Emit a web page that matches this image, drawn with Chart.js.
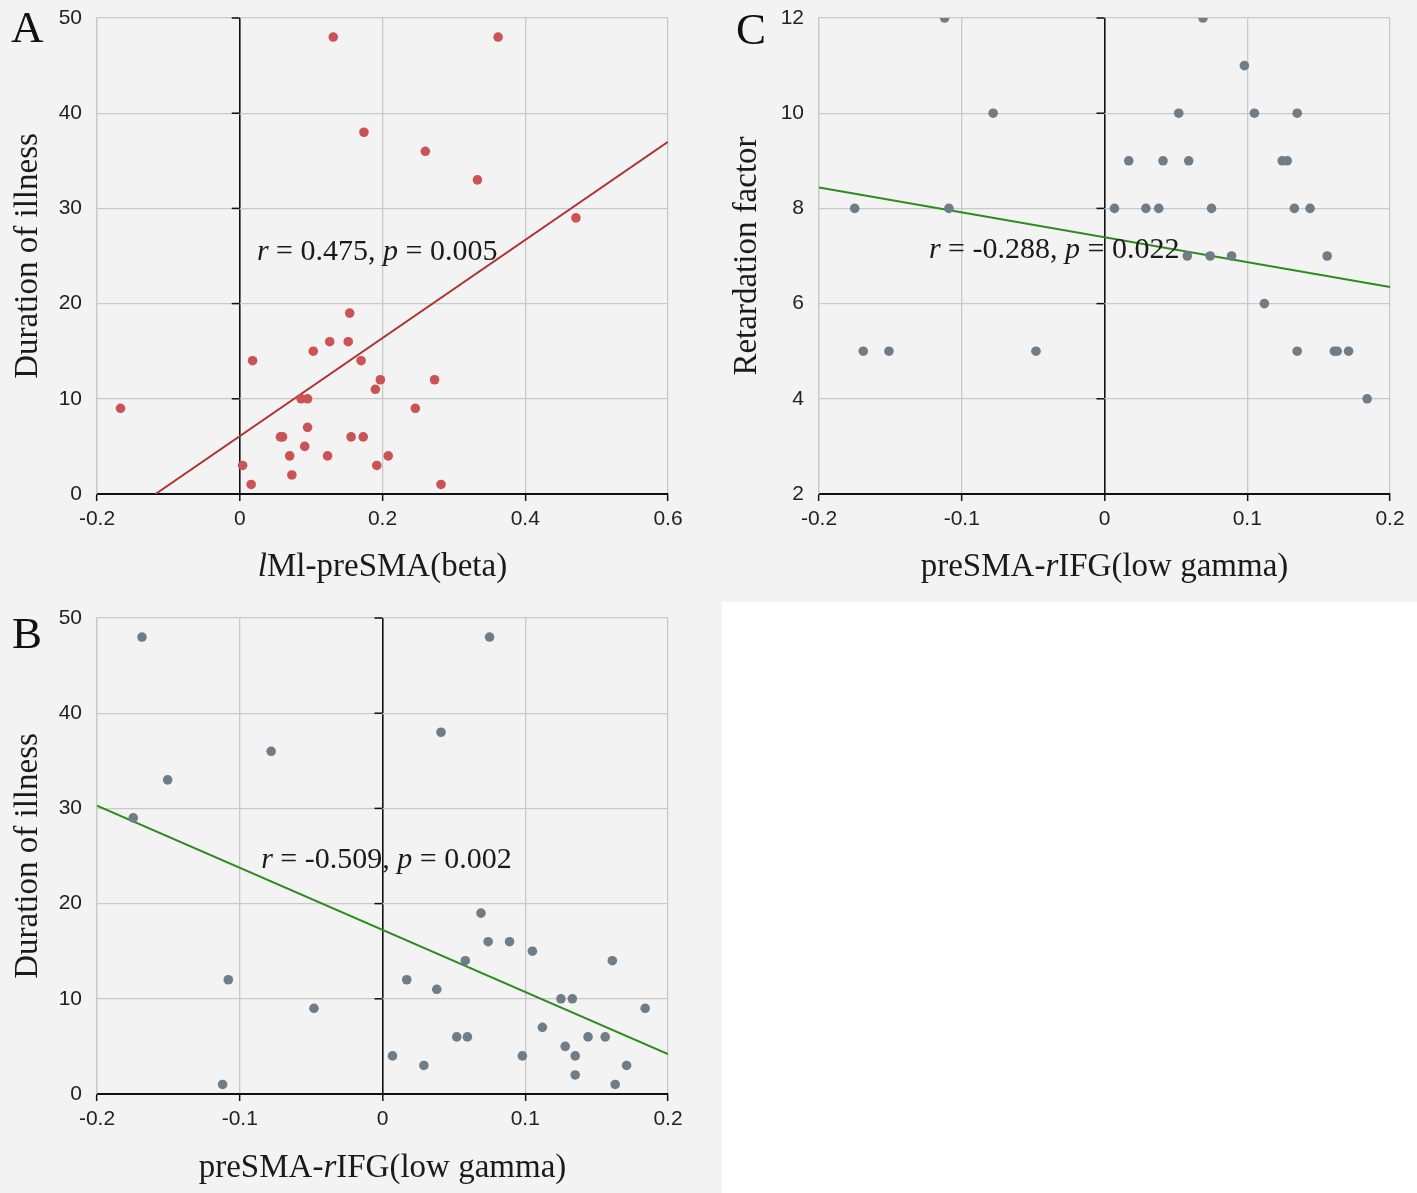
<!DOCTYPE html>
<html>
<head>
<meta charset="utf-8">
<title>Correlation scatter plots</title>
<script src="https://cdn.jsdelivr.net/npm/chart.js@4.4.0/dist/chart.umd.min.js"></script>
<style>
  html, body { margin: 0; padding: 0; }
  body {
    width: 1417px;
    height: 1193px;
    background: #f3f3f3;
    position: relative;
    overflow: hidden;
  }
  canvas { position: absolute; }
  #blank { position: absolute; left: 722px; top: 602px; right: 0; bottom: 0; background: #ffffff; }
  .tag { position: absolute; font: 45px/1 "Liberation Serif", serif; color: #111; }
</style>
</head>
<body>
<canvas id="chart-a" width="720" height="600" style="left:0;top:0"></canvas>
<canvas id="chart-c" width="697" height="600" style="left:720px;top:0"></canvas>
<canvas id="chart-b" width="720" height="593" style="left:0;top:600px"></canvas>
<div id="blank"></div>
<div class="tag" style="left:11px;top:5px">A</div>
<div class="tag" style="left:736px;top:7px">C</div>
<div class="tag" style="left:12px;top:611px">B</div>

<script>
// Panel A: lMl-preSMA(beta) vs duration of illness
const aBeta = [-0.167, 0.131, 0.362, 0.174, 0.260, 0.333, 0.471, 0.154, 0.126, 0.152, 0.103,
  0.018, 0.170, 0.197, 0.273, 0.190, 0.086, 0.095, 0.246, 0.095, 0.057, 0.060, 0.156, 0.173,
  0.091, 0.070, 0.123, 0.208, 0.004, 0.192, 0.073, 0.016, 0.282];
const aDuration = [9, 48, 48, 38, 36, 33, 29, 19, 16, 16, 15,
  14, 14, 12, 12, 11, 10, 10, 9, 7, 6, 6, 6, 6,
  5, 4, 4, 4, 3, 3, 2, 1, 1];
const aFitX = [-0.118, 0.6];
const aFitY = [0, 37];
const aXTicks = [-0.2, 0.6, 0.2];   // min, max, step
const aYTicks = [0, 50, 10];

// Panel C: preSMA-rIFG(low gamma) vs retardation factor
const cGamma = [-0.175, -0.169, -0.151, -0.112, -0.109, -0.078, -0.048, 0.007, 0.017, 0.029, 0.038,
  0.041, 0.052, 0.059, 0.058, 0.069, 0.074, 0.075, 0.089, 0.098, 0.105, 0.112, 0.1245, 0.128,
  0.133, 0.135, 0.135, 0.144, 0.156, 0.161, 0.163, 0.171, 0.184];
const cRetardation = [8, 5, 5, 12, 8, 10, 5, 8, 9, 8, 8,
  9, 10, 9, 7, 12, 7, 8, 7, 11, 10, 6, 9, 9,
  8, 10, 5, 8, 7, 5, 5, 5, 4];
const cFitX = [-0.2, 0.2];
const cFitY = [8.44, 6.35];
const cXTicks = [-0.2, 0.2, 0.1];
const cYTicks = [2, 12, 2];

// Panel B: preSMA-rIFG(low gamma) vs duration of illness
const bGamma = [-0.1685, 0.075, 0.041, -0.078, -0.1505, -0.1746, 0.069, 0.074, 0.089, 0.105, 0.058,
  0.161, -0.108, 0.017, 0.038, 0.125, 0.133, -0.048, 0.184, 0.112, 0.052, 0.0595, 0.144, 0.156,
  0.128, 0.007, 0.098, 0.135, 0.029, 0.171, 0.135, -0.112, 0.163];
const bDuration = [48, 48, 38, 36, 33, 29, 19, 16, 16, 15, 14,
  14, 12, 12, 11, 10, 10, 9, 9, 7, 6, 6, 6, 6,
  5, 4, 4, 4, 3, 3, 2, 1, 1];
const bFitX = [-0.2, 0.2];
const bFitY = [30.3, 4.2];
const bXTicks = [-0.2, 0.2, 0.1];
const bYTicks = [0, 50, 10];

const GRID = "#c9c9c9";
const INK = "#1a1a1a";
const SERIF = '"Liberation Serif", "Times New Roman", serif';
const SANS = '"Liberation Sans", Arial, sans-serif';

function toPoints(xs, ys) {
  return xs.map((x, i) => ({ x: x, y: ys[i] }));
}

function fmtTick(v) {
  return String(Number(v.toFixed(2)));
}

// Draw a run of text pieces, some in italic, starting at x on baseline y
function drawRich(ctx, parts, x, y, size, align) {
  const fontOf = (it) => (it ? "italic " : "") + size + "px " + SERIF;
  let total = 0;
  parts.forEach(([t, it]) => {
    ctx.font = fontOf(it);
    total += ctx.measureText(t).width;
  });
  let cx = align === "center" ? x - total / 2 : x;
  ctx.textAlign = "left";
  ctx.textBaseline = "alphabetic";
  ctx.fillStyle = INK;
  parts.forEach(([t, it]) => {
    ctx.font = fontOf(it);
    ctx.fillText(t, cx, y);
    cx += ctx.measureText(t).width;
  });
}

// Zero-line ticks, the statistic note and the mixed-style x title
const panelText = {
  id: "panelText",
  beforeDatasetsDraw(chart, args, opts) {
    const { ctx, scales: { x, y } } = chart;
    const x0 = x.getPixelForValue(0);
    ctx.save();
    ctx.strokeStyle = "#111";
    ctx.lineWidth = 1.5;
    y.ticks.forEach((t) => {
      const py = y.getPixelForValue(t.value);
      ctx.beginPath();
      ctx.moveTo(x0 - 8, py);
      ctx.lineTo(x0, py);
      ctx.stroke();
    });
    ctx.restore();
  },
  afterDraw(chart, args, opts) {
    const { ctx, chartArea, scales: { x, y } } = chart;
    ctx.save();
    drawRich(ctx, opts.note, x.getPixelForValue(opts.noteAt[0]), y.getPixelForValue(opts.noteAt[1]), 30, "left");
    drawRich(ctx, opts.xTitle, (chartArea.left + chartArea.right) / 2, opts.xTitleBaseline, 33, "center");
    ctx.restore();
  }
};

function makeChart(id, p) {
  return new Chart(document.getElementById(id), {
    type: "scatter",
    data: {
      datasets: [
        {
          data: toPoints(p.xs, p.ys),
          backgroundColor: p.pointColor,
          borderWidth: 0,
          pointRadius: 4.8,
          pointHoverRadius: 4.8
        },
        {
          data: toPoints(p.fitX, p.fitY),
          showLine: true,
          borderColor: p.lineColor,
          borderWidth: 2,
          pointRadius: 0,
          fill: false
        }
      ]
    },
    options: {
      responsive: false,
      animation: false,
      events: [],
      layout: { padding: { top: 18, right: p.padRight, bottom: 0, left: 0 } },
      plugins: {
        legend: { display: false },
        tooltip: { enabled: false },
        panelText: { note: p.note, noteAt: p.noteAt, xTitle: p.xTitle, xTitleBaseline: p.xTitleBaseline }
      },
      scales: {
        x: {
          type: "linear",
          min: p.xTicks[0],
          max: p.xTicks[1],
          ticks: {
            stepSize: p.xTicks[2],
            callback: fmtTick,
            font: { family: SANS, size: 21 },
            color: "#222",
            padding: 6,
            maxRotation: 0,
            autoSkip: false
          },
          grid: {
            color: (c) => (Math.abs(c.tick.value) < 1e-9 ? "#111" : GRID),
            lineWidth: (c) => (Math.abs(c.tick.value) < 1e-9 ? 1.6 : 1.3),
            tickColor: "#111",
            tickLength: 7,
            tickWidth: 1.5
          },
          border: { color: "#111", width: 2 },
          afterFit: (s) => { s.height = p.xAxisHeight; }
        },
        y: {
          type: "linear",
          min: p.yTicks[0],
          max: p.yTicks[1],
          ticks: {
            stepSize: p.yTicks[2],
            callback: fmtTick,
            font: { family: SANS, size: 21 },
            color: "#222",
            padding: 0
          },
          // invisible tick marks make the gap between labels and plot
          grid: { color: GRID, lineWidth: 1.3, drawTicks: true, tickLength: 15, tickColor: "rgba(0,0,0,0)" },
          border: { color: GRID, width: 1.3 },
          title: {
            display: true,
            text: p.yTitle,
            font: { family: SERIF, size: 33 },
            color: INK,
            padding: { top: p.yTitlePad, bottom: 0 }
          },
          afterFit: (s) => { s.width = p.yAxisWidth; }
        }
      }
    },
    plugins: [panelText]
  });
}

makeChart("chart-a", {
  xs: aBeta, ys: aDuration, fitX: aFitX, fitY: aFitY,
  xTicks: aXTicks, yTicks: aYTicks,
  pointColor: "#cc5353", lineColor: "#b03333",
  yTitle: "Duration of illness", yTitlePad: 9,
  xTitle: [["l", true], ["Ml-preSMA(beta)", false]], xTitleBaseline: 576,
  note: [["r", true], [" = 0.475, ", false], ["p", true], [" = 0.005", false]], noteAt: [0.024, 24.6],
  padRight: 52, yAxisWidth: 97, xAxisHeight: 106
});

makeChart("chart-c", {
  xs: cGamma, ys: cRetardation, fitX: cFitX, fitY: cFitY,
  xTicks: cXTicks, yTicks: cYTicks,
  pointColor: "#6f7d89", lineColor: "#2b8c1c",
  yTitle: "Retardation factor", yTitlePad: 8,
  xTitle: [["preSMA-", false], ["r", true], ["IFG(low gamma)", false]], xTitleBaseline: 576,
  note: [["r", true], [" = -0.288, ", false], ["p", true], [" = 0.022", false]], noteAt: [-0.123, 6.96],
  padRight: 27, yAxisWidth: 99, xAxisHeight: 106
});

makeChart("chart-b", {
  xs: bGamma, ys: bDuration, fitX: bFitX, fitY: bFitY,
  xTicks: bXTicks, yTicks: bYTicks,
  pointColor: "#6f7d89", lineColor: "#2b8c1c",
  yTitle: "Duration of illness", yTitlePad: 9,
  xTitle: [["preSMA-", false], ["r", true], ["IFG(low gamma)", false]], xTitleBaseline: 577,
  note: [["r", true], [" = -0.509, ", false], ["p", true], [" = 0.002", false]], noteAt: [-0.085, 23.7],
  padRight: 52, yAxisWidth: 97, xAxisHeight: 99
});
</script>
</body>
</html>
